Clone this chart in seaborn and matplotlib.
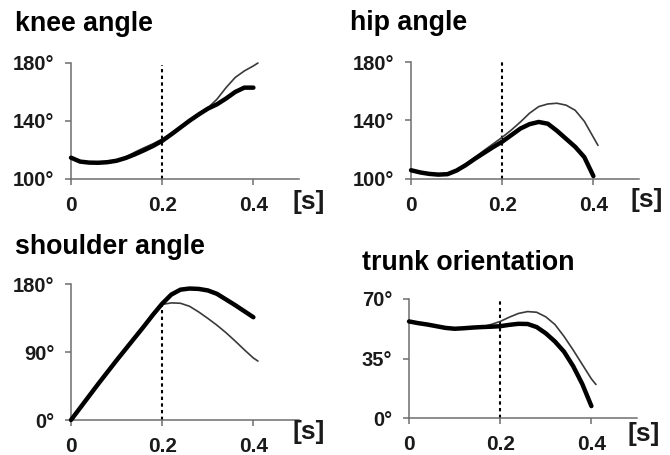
import matplotlib
matplotlib.use("Agg")
import matplotlib.pyplot as plt
import seaborn as sns
import pandas as pd

# ---------------- data ----------------
t_thick = [0.00, 0.02, 0.04, 0.06, 0.08, 0.10, 0.12, 0.14, 0.16, 0.18, 0.20,
           0.22, 0.24, 0.26, 0.28, 0.30, 0.32, 0.34, 0.36, 0.38, 0.40]
t_thin = t_thick + [0.41]

knee_thick = [114.7, 112.0, 111.3, 111.2, 111.6, 112.6, 114.5, 117.0, 119.8, 122.8, 126.3,
              130.8, 135.5, 140.2, 144.5, 148.5, 151.5, 155.5, 160.0, 163.0, 163.0]
knee_thin = [114.7, 112.0, 111.3, 111.2, 111.6, 112.6, 115.0, 118.5, 121.5, 124.3, 127.5,
             131.5, 136.0, 140.5, 145.0, 149.0, 155.0, 163.0, 170.0, 174.5, 178.0, 180.0]

hip_thick = [106.0, 104.5, 103.5, 103.0, 103.3, 105.8, 109.5, 113.8, 117.8, 121.8, 125.5,
             130.0, 134.5, 137.5, 139.0, 137.8, 133.0, 127.5, 122.0, 115.0, 102.0]
hip_thin = [106.0, 104.5, 103.5, 103.0, 103.3, 105.8, 110.0, 114.8, 119.5, 124.0, 128.5,
            133.5, 139.0, 145.0, 149.5, 151.3, 151.8, 150.5, 147.0, 139.5, 128.5, 123.0]

shoulder_thick = [0.0, 16.0, 32.0, 48.0, 63.5, 79.0, 94.0, 109.0, 124.0, 139.5, 154.0,
                  166.0, 172.5, 174.0, 173.5, 171.5, 167.0, 159.5, 152.0, 144.0, 136.0]
shoulder_thin = [0.0, 16.0, 32.0, 48.0, 63.5, 79.0, 94.0, 109.0, 124.0, 139.5, 153.0,
                 155.0, 154.5, 150.5, 143.0, 134.5, 125.5, 115.5, 104.5, 93.0, 82.0, 78.0]

trunk_thick = [56.8, 55.8, 55.0, 54.0, 53.0, 52.5, 52.8, 53.2, 53.5, 53.7, 54.0,
               54.8, 55.4, 55.3, 53.5, 49.8, 45.0, 39.0, 30.5, 20.0, 7.0]
trunk_thin = [56.8, 55.8, 55.0, 54.0, 53.0, 52.5, 52.8, 53.2, 53.6, 55.0, 56.8,
              59.3, 61.5, 62.6, 62.2, 59.5, 55.0, 48.0, 40.0, 31.5, 23.0, 19.7]

titles = ["knee angle", "hip angle", "shoulder angle", "trunk orientation"]
y_ticks = [[100, 140, 180], [100, 140, 180], [0, 90, 180], [0, 35, 70]]
y_tick_labels = [["100°", "140°", "180°"], ["100°", "140°", "180°"],
                 ["0°", "90°", "180°"], ["0°", "35°", "70°"]]
x_ticks = [0, 0.2, 0.4]
x_tick_labels = ["0", "0.2", "0.4"]
marker_time = 0.2
marker_top = [178.5, 180, 152, 69.5]
x_unit = "[s]"

thick_series = [knee_thick, hip_thick, shoulder_thick, trunk_thick]
thin_series = [knee_thin, hip_thin, shoulder_thin, trunk_thin]

# ---------------- style / layout ----------------
sns.set_style("white")
plt.rcParams["font.family"] = ["Liberation Sans", "DejaVu Sans"]

W, H = 670, 455
fig = plt.figure(figsize=(W / 100, H / 100), dpi=100)

# axes boxes in pixels: left, top, right, bottom
boxes = [(71, 63, 299, 179), (411, 62, 639, 179),
         (71, 284, 299, 420), (409, 299, 637, 418)]
title_pos = [(15, 31), (350, 30), (15, 254), (362, 270)]
unit_pos = [(309, 202), (647, 200), (309, 432), (644, 434)]

spine_col = "#6e6e6e"
label_col = "#1a1a1a"

for i in range(4):
    l, tp, r, b = boxes[i]
    ax = fig.add_axes([l / W, 1 - b / H, (r - l) / W, (b - tp) / H])
    ax.set_facecolor("none")
    yt = y_ticks[i]
    ax.set_xlim(0, 0.5)
    ax.set_ylim(yt[0], yt[-1])

    ax.vlines(marker_time, yt[0], marker_top[i], colors="black",
              linestyles=(0, (1.6, 1.6)), linewidth=1.5, zorder=1)

    df_thin = pd.DataFrame({"t": t_thin, "v": thin_series[i]})
    df_thick = pd.DataFrame({"t": t_thick, "v": thick_series[i]})
    sns.lineplot(data=df_thin, x="t", y="v", ax=ax, color="#3a3a3a",
                 linewidth=1.2, clip_on=False, zorder=2)
    sns.lineplot(data=df_thick, x="t", y="v", ax=ax, color="black",
                 linewidth=3.2, clip_on=False, zorder=3)

    for s in ["top", "right"]:
        ax.spines[s].set_visible(False)
    for s in ["left", "bottom"]:
        ax.spines[s].set_color(spine_col)
        ax.spines[s].set_linewidth(1.1)
    ax.set_xticks(x_ticks)
    ax.set_xticklabels(x_tick_labels, fontsize=15, fontweight="bold", color=label_col)
    ax.set_yticks(yt)
    ax.set_yticklabels(y_tick_labels[i], fontsize=14.5, fontweight="bold", color=label_col)
    ax.tick_params(axis="both", direction="out", length=4, width=1.1,
                   color=spine_col, pad=8, bottom=True, left=True)
    ax.set_xlabel("")
    ax.set_ylabel("")

    fig.text(title_pos[i][0] / W, 1 - title_pos[i][1] / H, titles[i],
             fontsize=19.3, fontweight="bold", color="black", va="baseline", ha="left")
    fig.text(unit_pos[i][0] / W, 1 - unit_pos[i][1] / H, x_unit,
             fontsize=19, fontweight="bold", color=label_col, va="center", ha="center")

fig.savefig("out.png", dpi=100)
